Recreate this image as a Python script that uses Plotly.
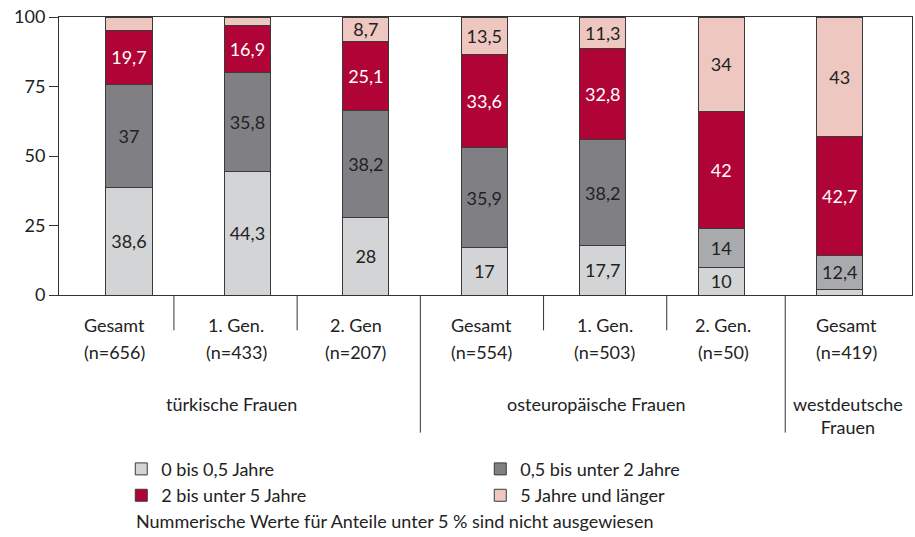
import plotly.graph_objects as go

categories = ["Gesamt", "1. Gen.", "2. Gen", "Gesamt", "1. Gen.", "2. Gen.", "Gesamt"]
sample_sizes = ["(n=656)", "(n=433)", "(n=207)", "(n=554)", "(n=503)", "(n=50)", "(n=419)"]
groups = ["türkische Frauen", "osteuropäische Frauen", "westdeutsche<br>Frauen"]
group_members = [[0, 1, 2], [3, 4, 5], [6]]

series_names = ["0 bis 0,5 Jahre", "0,5 bis unter 2 Jahre", "2 bis unter 5 Jahre", "5 Jahre und länger"]
v_0_05 = [38.6, 44.3, 28.0, 17.0, 17.7, 10.0, 1.9]
v_05_2 = [37.0, 35.8, 38.2, 35.9, 38.2, 14.0, 12.4]
v_2_5 = [19.7, 16.9, 25.1, 33.6, 32.8, 42.0, 42.7]
v_5plus = [4.7, 3.0, 8.7, 13.5, 11.3, 34.0, 43.0]
series_values = [v_0_05, v_05_2, v_2_5, v_5plus]

y_ticks = [0, 25, 50, 75, 100]

FONT = "Lato"
colors = ["#d3d4d6", "#808084", "#b00336", "#eec7c0"]
light_mid = "#a9aaad"
text_colors = ["#222222", "#222222", "#ffffff", "#222222"]


def fmt(v):
    if v < 5:
        return ""
    s = ("%.1f" % v).rstrip("0").rstrip(".")
    return s.replace(".", ",")


x = list(range(len(categories)))
fig = go.Figure()
for k, (name, vals) in enumerate(zip(series_names, series_values)):
    if k == 1:
        mc = [colors[1] if i < 5 else light_mid for i in x]
    else:
        mc = colors[k]
    fig.add_trace(go.Bar(
        x=x, y=vals, name=name,
        marker=dict(color=mc, line=dict(color="#3a3a3a", width=1)),
        width=0.39,
        text=[fmt(v) for v in vals],
        textposition="inside", insidetextanchor="middle", textangle=0,
        textfont=dict(family=FONT, size=18, color=text_colors[k]),
        hoverinfo="skip",
    ))

shapes = []
sep_positions = [0.38, 1.42, 2.46, 3.50, 4.54, 5.54]
sep_long = [False, False, True, False, False, True]
for p, lg in zip(sep_positions, sep_long):
    shapes.append(dict(type="line", xref="x", yref="paper", x0=p, x1=p,
                       y0=0, y1=-0.495 if lg else -0.127,
                       line=dict(color="#333333", width=1)))

annotations = []
label_shift = [-14, -11, -10, -3, 2, 2, 7]
for i, (c, n) in enumerate(zip(categories, sample_sizes)):
    annotations.append(dict(x=i, y=0, xref="x", yref="paper", text=c, showarrow=False,
                            xshift=label_shift[i], yshift=-30, yanchor="middle",
                            font=dict(family=FONT, size=18, color="#222")))
    annotations.append(dict(x=i, y=0, xref="x", yref="paper", text=n, showarrow=False,
                            xshift=label_shift[i], yshift=-57, yanchor="middle",
                            font=dict(family=FONT, size=18, color="#222")))
group_shift = [-16, -6, 8]
for g, mem, gs in zip(groups, group_members, group_shift):
    annotations.append(dict(x=sum(mem) / len(mem), y=0, xref="x", yref="paper", text=g,
                            showarrow=False, xshift=gs, yshift=-96, yanchor="top",
                            font=dict(family=FONT, size=18, color="#222")))
annotations.append(dict(x=0.088, y=0, xref="paper", yref="paper", xanchor="left", yanchor="middle",
                        yshift=-226, showarrow=False,
                        text="Nummerische Werte für Anteile unter 5 % sind nicht ausgewiesen",
                        font=dict(family=FONT, size=18, color="#222")))

fig.update_layout(
    width=915, height=537,
    margin=dict(l=59, r=3, t=17, b=242, autoexpand=False),
    barmode="stack",
    plot_bgcolor="white", paper_bgcolor="white",
    font=dict(family=FONT, size=18, color="#222"),
    uniformtext=dict(minsize=18, mode="show"),
    showlegend=True,
    legend=dict(orientation="h", x=0.073, y=-0.56, xanchor="left", yanchor="top",
                entrywidth=314, entrywidthmode="pixels", traceorder="normal",
                font=dict(family=FONT, size=18, color="#222"), tracegroupgap=0),
    xaxis=dict(range=[-0.59, 6.61], showticklabels=False, ticks="", showline=True,
               linecolor="#333", linewidth=1, mirror=True, showgrid=False, zeroline=False,
               fixedrange=True),
    yaxis=dict(range=[0, 100], tickvals=y_ticks, ticks="outside", ticklen=9,
               tickcolor="#333", showline=True, linecolor="#333", linewidth=1, mirror=True,
               showgrid=False, zeroline=False, tickfont=dict(family=FONT, size=18, color="#222")),
    shapes=shapes,
    annotations=annotations,
)

fig.write_html("out.html", config={"displayModeBar": False},
               post_script="document.body.style.margin='0';document.body.style.overflow='hidden';")
